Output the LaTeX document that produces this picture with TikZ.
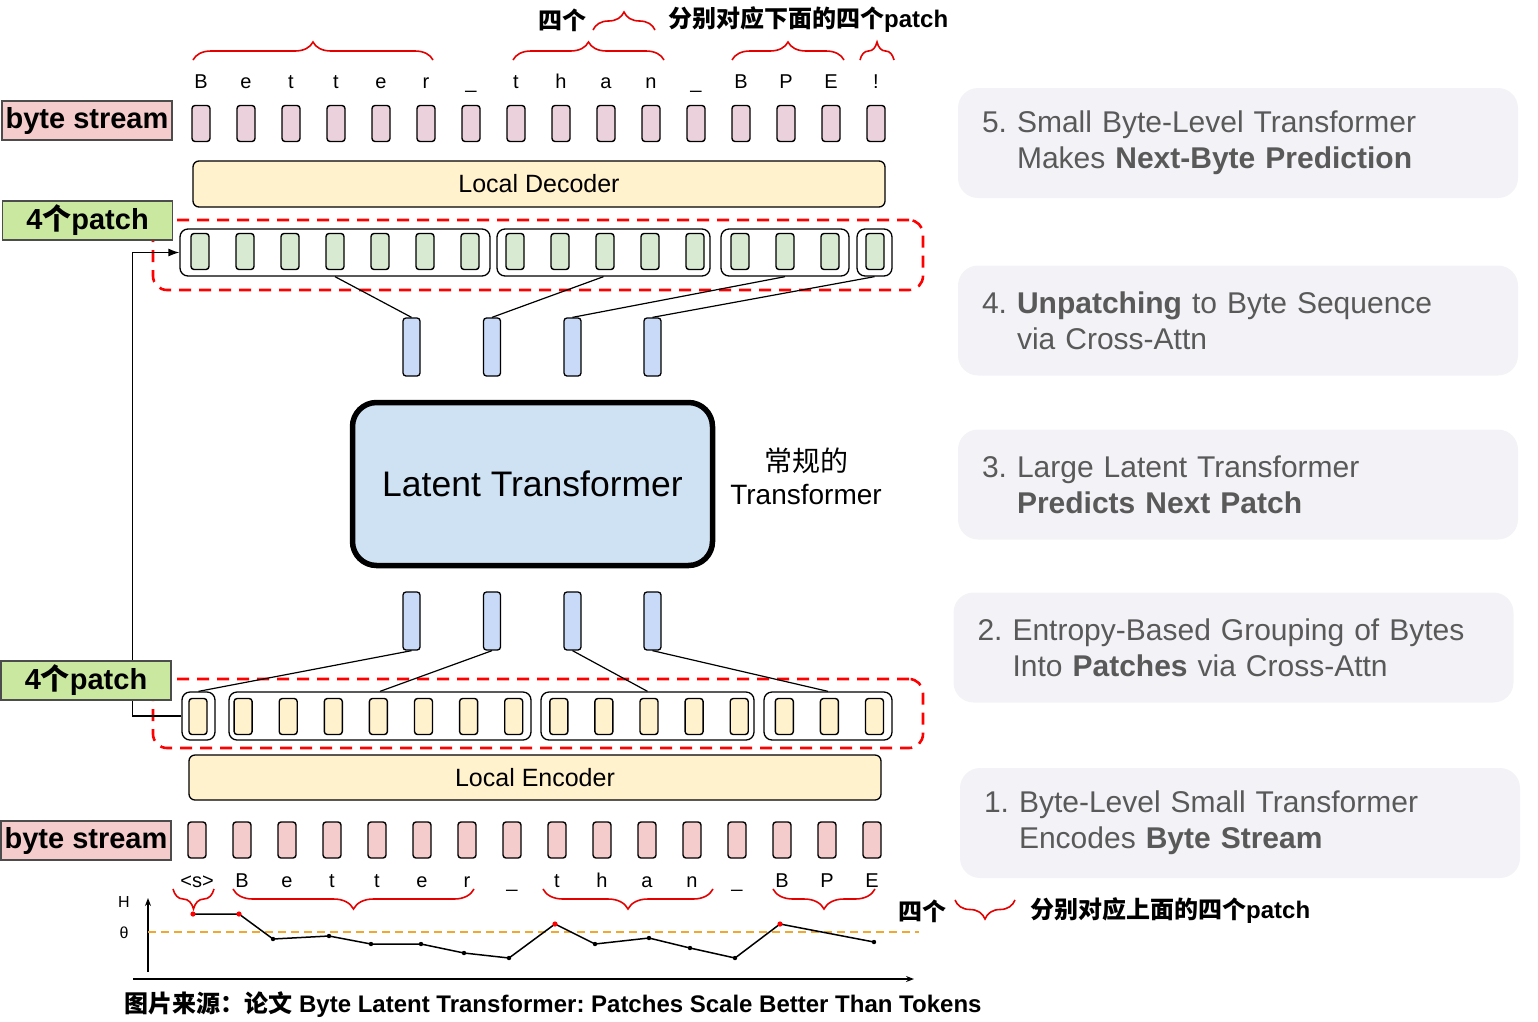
\documentclass[tikz,border=0pt]{standalone}
\usepackage{fontspec}
\setmainfont{Liberation Sans}
\newfontfamily\cjk{Noto Sans CJK SC}
\usetikzlibrary{arrows.meta,decorations.pathreplacing}
\definecolor{bytetop}{HTML}{EAD1DC}
\definecolor{bytepink}{HTML}{F4CCCC}
\definecolor{patchgreen}{HTML}{D9EAD3}
\definecolor{taggreen}{HTML}{CBE8A0}
\definecolor{localyellow}{HTML}{FFF2CC}
\definecolor{vecblue}{HTML}{C9DAF8}
\definecolor{latentblue}{HTML}{CFE2F3}
\definecolor{stepbg}{HTML}{F3F3F7}
\definecolor{steptext}{HTML}{595959}
\definecolor{thetaline}{HTML}{F0A830}
\newcommand\fsz[2]{\fontsize{#1}{#2}\selectfont}
\frenchspacing

\begin{document}
\begin{tikzpicture}[x=1pt, y=-1pt,
    byte/.style={draw, rounded corners=3pt, line width=1.4pt, minimum width=18pt, minimum height=36pt, inner sep=0pt},
    grp/.style={draw, rounded corners=8pt, line width=1.3pt, fill=white, minimum height=47pt, inner sep=0pt},
    vec/.style={draw, rounded corners=3pt, line width=1.3pt, fill=vecblue, minimum width=17pt, minimum height=58pt, inner sep=0pt},
    layer/.style={draw, rounded corners=6pt, line width=1.3pt, fill=localyellow, minimum width=692pt, minimum height=46pt, font=\fsz{25}{30}},
    tag/.style={draw=black!70, line width=1.2pt, minimum width=170pt, minimum height=39pt, inner sep=0pt, font=\bfseries\fsz{29}{34}},
    fence/.style={draw=red, line width=2.6pt, dash pattern=on 12pt off 8pt, rounded corners=14pt, minimum width=770pt, inner sep=0pt},
    chr/.style={anchor=base, font=\fsz{20}{24}, inner sep=0pt},
    brc/.style={draw=red!90!black, line width=1.6pt, decorate, decoration={brace, amplitude=#1}},
    brc/.default=18pt,
    stepbox/.style={fill=stepbg, rounded corners=20pt, minimum height=110pt, text width=512pt, inner xsep=24pt, align=left, text=steptext, font=\fsz{30}{36}},
    note/.style={font=\bfseries\fsz{24}{28}, inner sep=0pt},
    >={Latex[length=11pt, width=8pt]}
]
    \useasboundingbox (0,0) rectangle (1538,1021);

    \node[note] (topfour) at (562,20) {\cjk 四个};
    \draw[brc] (593,30) -- (655,30);
    \node[note, anchor=west] (topnote) at (668,20) {{\cjk 分别对应下面的四个}patch};

    \draw[brc] (193,60) -- (433,60);
    \draw[brc] (513,60) -- (664,60);
    \draw[brc] (732,60) -- (844,60);
    \draw[brc] (860,60) -- (894,60);
    \foreach \c [count=\i] in {B,e,t,t,e,r,\_,t,h,a,n,\_,B,P,E,!} {
        \node[byte, fill=bytetop] (tb\i) at ({201+45*(\i-1)},123.5) {};
        \node[chr] (tc\i) at ({201+45*(\i-1)},88) {\c};
    }
    \node[layer] (dec) at (539,184) {Local Decoder};

    \node[fence, minimum height=70pt] (tfence) at (538,255) {};
    \foreach \n/\cx/\w in {1/335/310, 2/603.5/213, 3/785/128, 4/874.5/35}
        \node[grp, minimum width=\w pt] (tg\n) at (\cx,252.5) {};
    \foreach \i in {1,...,16}
        \node[byte, fill=patchgreen] (tp\i) at ({200+45*(\i-1)},251.5) {};

    \foreach \n/\cx in {1/411.5, 2/492, 3/572.5, 4/652.5} {
        \node[vec] (vt\n) at (\cx,347) {};
        \node[vec] (vb\n) at (\cx,621) {};
    }
    \foreach \n in {1,...,4}
        \draw[line width=1.2pt] (tg\n.south) -- (vt\n.north);

    \node[draw, line width=5.5pt, rounded corners=24pt, fill=latentblue, minimum width=360pt, minimum height=163pt,
        font=\fsz{35.5}{40}] (lat) at (532.5,484) {Latent Transformer};
    \node[align=center, font=\fsz{28}{33}] (plain) at (806,476) {{\cjk 常规的}\\Transformer};

    \node[fence, minimum height=69pt] (bfence) at (538,713.5) {};
    \foreach \n/\cx/\w in {1/198.5/33, 2/380/302, 3/647.5/213, 4/828/128}
        \node[grp, minimum width=\w pt, minimum height=48pt] (bg\n) at (\cx,716) {};
    \foreach \i in {1,...,16}
        \node[byte, fill=localyellow] (bp\i) at ({198+45.1*(\i-1)},716.5) {};
    \foreach \n in {1,...,4}
        \draw[line width=1.2pt] (vb\n.south) -- (bg\n.north);

    \draw[->, line width=1.3pt] (bg1.west) -- ++(-49,0) |- (tg1.west);

    \node[tag, fill=bytepink] (tstream) at (87,120.5) {byte stream};
    \node[tag, fill=taggreen] (tpatch) at (87.5,220.5) {4{\cjk 个}patch};
    \node[tag, fill=taggreen] (bpatch) at (86,680.5) {4{\cjk 个}patch};
    \node[tag, fill=bytepink] (bstream) at (86,840.5) {byte stream};

    \node[layer, minimum height=45pt] (enc) at (535,777.5) {Local Encoder};
    \foreach \c [count=\i] in {<s>,B,e,t,t,e,r,\_,t,h,a,n,\_,B,P,E} {
        \node[byte, fill=bytepink] (bb\i) at ({197+45*(\i-1)},840) {};
        \node[chr] (bc\i) at ({197+45*(\i-1)},887) {\c};
    }
    \draw[brc=20pt] (214,889) -- (173,889);
    \draw[brc=20pt] (474,889) -- (233,889);
    \draw[brc=20pt] (713,889) -- (543,889);
    \draw[brc=20pt] (875,889) -- (773,889);

    \node[font=\fsz{16}{19}] (hlab) at (124,902) {H};
    \node[font=\fsz{16}{19}] (tlab) at (124,933) {θ};
    \draw[-{Stealth[length=8pt, width=6pt]}, line width=1.3pt] (148,972) -- (148,898);
    \draw[-{Stealth[length=8pt, width=6pt]}, line width=1.3pt] (133,979) -- (914,979);
    \draw[thetaline, line width=1.6pt, dash pattern=on 8pt off 5pt] (148,932) -- (919,932);
    \draw[line width=1.5pt] (193,914) -- (239,914) -- (273,939) -- (329,936) -- (371,944) -- (421,944)
        -- (464,953) -- (509,958) -- (555,924) -- (595,944) -- (649,938) -- (690,948) -- (735,958)
        -- (780,924) -- (874,942);
    \foreach \p in {(273,939), (329,936), (371,944), (421,944), (464,953), (509,958), (595,944),
        (649,938), (690,948), (735,958), (874,942)}
        \fill \p circle (2.2pt);
    \foreach \p in {(193,914), (239,914), (555,924), (780,924)}
        \fill[red] \p circle (2.6pt);

    \node[note] (botfour) at (922,911) {\cjk 四个};
    \draw[brc=19pt] (1015,900) -- (955,900);
    \node[note, anchor=west] (botnote) at (1030,911) {{\cjk 分别对应上面的四个}patch};

    \node[stepbox] (s5) at (1238,143) {5. Small Byte-Level Transformer\\\hphantom{5. }Makes \textbf{Next-Byte Prediction}};
    \node[stepbox] (s4) at (1238,320.5) {4. \textbf{Unpatching} to Byte Sequence\\\hphantom{4. }via Cross-Attn};
    \node[stepbox] (s3) at (1238,484.5) {3. Large Latent Transformer\\\hphantom{3. }\textbf{Predicts Next Patch}};
    \node[stepbox] (s2) at (1233.5,647.5) {2. Entropy-Based Grouping of Bytes\\\hphantom{2. }Into \textbf{Patches} via Cross-Attn};
    \node[stepbox] (s1) at (1240,823) {1. Byte-Level Small Transformer\\\hphantom{1. }Encodes \textbf{Byte Stream}};

    \node[font=\bfseries\fsz{24}{28}] (source) at (553,1005)
        {{\cjk 图片来源：论文} Byte Latent Transformer: Patches Scale Better Than Tokens};
\end{tikzpicture}
\end{document}
